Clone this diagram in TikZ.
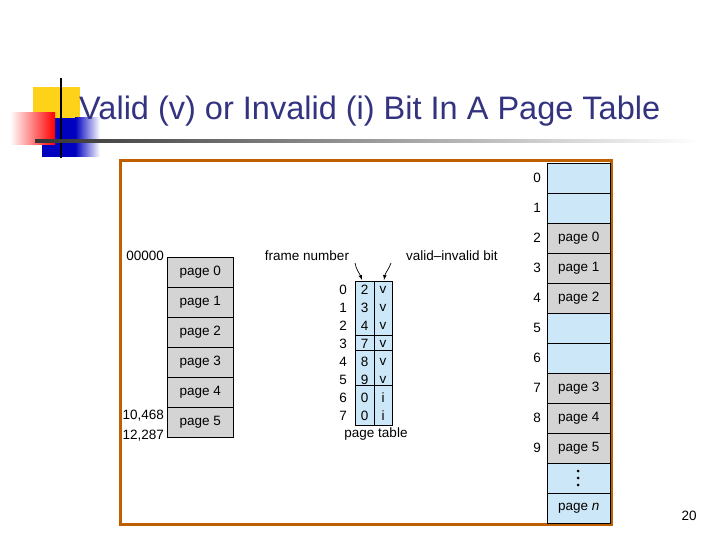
\documentclass[tikz,border=0pt]{standalone}
\usepackage{fontspec}
\setmainfont{Liberation Sans}
\begin{document}
\begin{tikzpicture}[x=1pt,y=-1pt,
  cell/.style={draw=black,line width=0.6pt,minimum width=#1,minimum height=30pt,inner sep=0pt,font=\fontsize{13.5}{14}\selectfont,anchor=north west},
  lbl/.style={font=\fontsize{13.5}{14}\selectfont,inner sep=1pt}]
\definecolor{pb}{HTML}{CCE8F8}\definecolor{pg}{HTML}{D4D4D4}
\definecolor{ttl}{HTML}{333380}\definecolor{yel}{HTML}{FFD21A}
\useasboundingbox (0,0) rectangle (720,540);
% decoration
\fill[yel] (33,87) rectangle (80,130);
\shade[left color=blue!75!black,right color=white] (75,118) rectangle (100,157);
\fill[blue!75!black] (42,118) rectangle (75,157);
\shade[left color=white,right color=red] (10,113) rectangle (55,145);
\draw[line width=2pt] (61,78) -- (61,158);
\shade[left color=black!80, right color=white] (35,140) rectangle (700,142.5);
\node[anchor=west,text=ttl,font=\fontsize{32.5}{36}\selectfont,inner sep=0] (title) at (79,111) {Valid (v) or Invalid (i) Bit In A Page Table};
% frame
\draw[line width=3pt,color=orange!75!black] (120,161) rectangle (611,524);
% logical memory
\foreach \i/\t in {0/page 0,1/page 1,2/page 2,3/page 3,4/page 4,5/page 5}
  \node[cell=66pt,fill=pg] (l\i) at (167,257+30*\i) {\t};
\node[lbl,anchor=east] (a0) at (165,256) {00000};
\node[lbl,anchor=east] (a1) at (165,416) {10,468};
\node[lbl,anchor=east] (a2) at (165,436) {12,287};
% page table
\fill[pb] (355,281) rectangle (392,425);
\draw[line width=0.6pt] (355,281) rectangle (392,425) (374,281) -- (374,425)
  (355,335) -- (392,335) (355,350) -- (392,350) (355,385) -- (392,385);
\foreach \i/\f/\v in {0/2/v,1/3/v,2/4/v,3/7/v,4/8/v,5/9/v,6/0/i,7/0/i}{
  \node[lbl] (pi\i) at (343,290+18*\i) {\i};
  \node[lbl] (pf\i) at (364.5,290+18*\i) {\f};
  \node[lbl] (pv\i) at (383,290+18*\i) {\v};}
\node[lbl] (pt) at (376,434) {page table};
\node[lbl] (fn) at (307,256) {frame number};
\node[lbl] (vb) at (452,256) {valid--invalid bit};
\coordinate (fa) at (362,280); \coordinate (va) at (384,280);
\coordinate (fs) at (355,263); \coordinate (vs) at (391,263);
\draw[-latex,line width=0.7pt] (fs) to[out=-80,in=110] (fa);
\draw[-latex,line width=0.7pt] (vs) to[out=-110,in=80] (va);
% physical memory
\foreach \i/\t/\c in {0//pb,1//pb,2/page 0/pg,3/page 1/pg,4/page 2/pg,5//pb,6//pb,7/page 3/pg,8/page 4/pg,9/page 5/pg}{
  \node[cell=63pt,fill=\c] (m\i) at (547,163+30*\i) {\t};
  \node[lbl] (n\i) at (537,178+30*\i) {\i};}
\node[cell=63pt,fill=pb] (m10) at (547,463) {};
\node[cell=63pt,fill=pb] (m11) at (547,493) {page \textit{n}};
\foreach \d in {-7,0,7} \fill (578,478+\d) circle (1.5pt);
\node[lbl] (pn) at (689,516) {20};
\end{tikzpicture}
\end{document}
